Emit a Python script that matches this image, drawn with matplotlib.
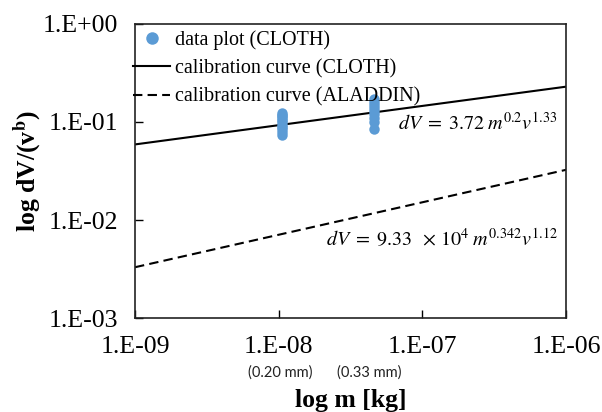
import matplotlib
matplotlib.use('Agg')
import matplotlib.pyplot as plt
from matplotlib.ticker import FixedLocator, FixedFormatter, NullLocator
from matplotlib.lines import Line2D
import matplotlib.transforms as mtransforms

plt.rcParams['font.family'] = ['Liberation Serif', 'DejaVu Serif']
plt.rcParams['mathtext.fontset'] = 'stix'

# ---- data ----
# measured points (CLOTH), two particle sizes
m_small = [1.05e-8] * 11
dv_small = [0.074, 0.079, 0.084, 0.089, 0.094, 0.099, 0.104, 0.109, 0.114, 0.119, 0.124]
m_large = [4.6e-8] * 9
dv_large = [0.085, 0.10, 0.11, 0.12, 0.13, 0.14, 0.15, 0.16, 0.17]

# calibration curves, end points over the x range
curve_m = [1e-9, 1e-6]
cloth_curve = [0.059, 0.229]
aladdin_curve = [0.0033, 0.0325]

x_ticks = [1e-9, 1e-8, 1e-7, 1e-6]
x_tick_labels = ['1.E-09', '1.E-08', '1.E-07', '1.E-06']
y_ticks = [1e-3, 1e-2, 1e-1, 1e0]
y_tick_labels = ['1.E-03', '1.E-02', '1.E-01', '1.E+00']

size_labels = ['(0.20 mm)', '(0.33 mm)']
size_label_m = [1.02e-8, 4.3e-8]

blue = '#5B9BD5'

fig = plt.figure(figsize=(6.02, 4.12), dpi=100)
ax = fig.add_axes([0.2243, 0.228, 0.716, 0.714])

ax.plot(curve_m, cloth_curve, color='black', lw=1.5, solid_capstyle='butt')
ax.plot(curve_m, aladdin_curve, color='black', lw=1.5, dashes=(4.5, 2.5))
ax.plot(m_small, dv_small, 'o', color=blue, ms=7.5, mew=0)
ax.plot(m_large, dv_large, 'o', color=blue, ms=7.5, mew=0)

ax.set_xscale('log')
ax.set_yscale('log')
ax.set_xlim(1e-9, 1e-6)
ax.set_ylim(1e-3, 1e0)

ax.xaxis.set_major_locator(FixedLocator(x_ticks))
ax.xaxis.set_major_formatter(FixedFormatter(x_tick_labels))
ax.yaxis.set_major_locator(FixedLocator(y_ticks))
ax.yaxis.set_major_formatter(FixedFormatter(y_tick_labels))
ax.xaxis.set_minor_locator(NullLocator())
ax.yaxis.set_minor_locator(NullLocator())
ax.tick_params(axis='both', direction='in', length=6, width=1, labelsize=18.5)
ax.tick_params(axis='x', pad=13)
ax.tick_params(axis='y', pad=12)
for s in ax.spines.values():
    s.set_linewidth(1.2)
    s.set_color('#222222')

ax.set_xlabel('log m [kg]', fontsize=18.5, fontweight='bold', labelpad=22)
ax.set_ylabel(r'log dV/(v$^{\mathbf{b}}$)', fontsize=18.5, fontweight='bold', labelpad=-1)

# particle size notes below the tick labels
trans = mtransforms.blended_transform_factory(ax.transData, ax.transAxes)
for lab, xm in zip(size_labels, size_label_m):
    ax.text(xm, -0.185, lab, transform=trans, ha='center', va='center',
            fontsize=10.5, family=['Lato', 'DejaVu Sans'], color='#222222')

ax.text(0.981, 0.66, r'$dV\;=\;3.72\;m^{0.2}v^{1.33}$', transform=ax.transAxes,
        ha='right', va='center', fontsize=14.5)
ax.text(0.981, 0.27, r'$dV\;=\;9.33\;\;\times\,10^{4}\;m^{0.342}v^{1.12}$', transform=ax.transAxes,
        ha='right', va='center', fontsize=14.5)

handles = [
    Line2D([], [], marker='o', ls='none', color=blue, ms=9, mew=0),
    Line2D([], [], color='black', lw=1.5),
    Line2D([], [], color='black', lw=1.5, dashes=(4.5, 2.5)),
]
labels = ['data plot (CLOTH)', 'calibration curve (CLOTH)', 'calibration curve (ALADDIN)']
ax.legend(handles, labels, loc='upper left', bbox_to_anchor=(-0.005, 0.978),
          frameon=False, fontsize=14.5, borderpad=0, borderaxespad=0,
          handlelength=1.85, handletextpad=0.25, labelspacing=0.45)

fig.savefig('out.png', dpi=100)
